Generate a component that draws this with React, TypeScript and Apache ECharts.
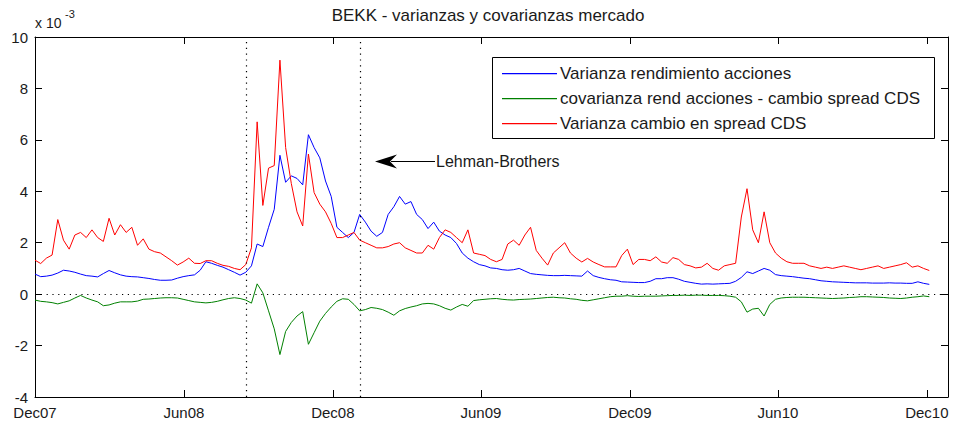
import React, { useEffect, useRef } from "react";
import * as echarts from "echarts";

// Weekly observations starting 1 Dec 2007 (values in units of 10^-3)
const startDate = "2007-12-01";
const endDate = "2010-12-27";
const stepDays = 7;

const seriesNames = [
  "Varianza rendimiento acciones",
  "covarianza rend acciones - cambio spread CDS",
  "Varianza cambio en spread CDS",
];
const seriesColors = ["#0000ff", "#008000", "#ff0000"];

const varRend = [
  0.78, 0.68, 0.70, 0.74, 0.82, 0.93, 0.90, 0.85, 0.78, 0.72,
  0.70, 0.67, 0.80, 0.92, 0.83, 0.75, 0.70, 0.68, 0.67, 0.64,
  0.61, 0.57, 0.54, 0.54, 0.55, 0.62, 0.68, 0.72, 0.75, 0.93,
  1.26, 1.20, 1.12, 1.05, 0.95, 0.85, 0.74, 0.85, 1.10, 1.95,
  1.85, 2.60, 3.30, 5.40, 4.35, 4.60, 4.50, 4.25, 6.20, 5.70,
  5.30, 4.40, 3.80, 2.60, 2.40, 2.20, 2.40, 3.10, 2.80, 2.45,
  2.25, 2.40, 3.10, 3.40, 3.80, 3.50, 3.60, 3.10, 2.90, 2.55,
  2.80, 2.45, 2.30, 2.20, 1.97, 1.60, 1.40, 1.26, 1.15, 1.10,
  1.02, 1.00, 0.95, 0.93, 0.95, 1.00, 0.90, 0.80, 0.77, 0.75,
  0.73, 0.72, 0.72, 0.73, 0.72, 0.71, 0.70, 0.90, 0.72, 0.65,
  0.60, 0.56, 0.54, 0.48, 0.47, 0.46, 0.45, 0.45, 0.50, 0.60,
  0.60, 0.64, 0.64, 0.58, 0.50, 0.46, 0.42, 0.39, 0.40, 0.39,
  0.40, 0.41, 0.42, 0.50, 0.65, 0.87, 0.80, 0.90, 1.00, 0.93,
  0.76, 0.72, 0.70, 0.68, 0.65, 0.62, 0.60, 0.56, 0.52, 0.50,
  0.48, 0.47, 0.46, 0.45, 0.44, 0.44, 0.44, 0.43, 0.43, 0.43,
  0.44, 0.43, 0.43, 0.42, 0.42, 0.48, 0.42, 0.38,
];

const covar = [
  -0.23, -0.28, -0.30, -0.33, -0.38, -0.32, -0.26, -0.15, -0.05, -0.15,
  -0.23, -0.30, -0.45, -0.42, -0.35, -0.30, -0.30, -0.30, -0.27, -0.20,
  -0.19, -0.17, -0.15, -0.14, -0.14, -0.15, -0.20, -0.25, -0.30, -0.32,
  -0.34, -0.32, -0.28, -0.22, -0.17, -0.14, -0.17, -0.23, -0.35, 0.40,
  0.05, -0.65, -1.35, -2.35, -1.45, -1.10, -0.85, -0.68, -1.95, -1.50,
  -1.05, -0.75, -0.50, -0.28, -0.18, -0.20, -0.40, -0.65, -0.60, -0.52,
  -0.55, -0.60, -0.70, -0.82, -0.65, -0.56, -0.50, -0.45, -0.38, -0.36,
  -0.38, -0.45, -0.55, -0.62, -0.50, -0.40, -0.47, -0.25, -0.22, -0.20,
  -0.18, -0.17, -0.20, -0.22, -0.23, -0.21, -0.20, -0.19, -0.17, -0.15,
  -0.13, -0.12, -0.14, -0.15, -0.18, -0.20, -0.24, -0.26, -0.22, -0.18,
  -0.14, -0.10, -0.08, -0.08, -0.06, -0.08, -0.09, -0.08, -0.08, -0.08,
  -0.07, -0.06, -0.05, -0.05, -0.04, -0.05, -0.04, -0.04, -0.05, -0.05,
  -0.05, -0.06, -0.08, -0.12, -0.30, -0.70, -0.58, -0.55, -0.85, -0.40,
  -0.20, -0.15, -0.13, -0.12, -0.12, -0.12, -0.13, -0.14, -0.15, -0.16,
  -0.17, -0.16, -0.15, -0.13, -0.12, -0.10, -0.10, -0.11, -0.12, -0.13,
  -0.15, -0.16, -0.17, -0.15, -0.12, -0.10, -0.07, -0.10,
];

const varCds = [
  1.32, 1.19, 1.40, 1.52, 2.90, 2.10, 1.75, 2.30, 2.40, 2.20,
  2.50, 2.20, 2.05, 2.95, 2.30, 2.70, 2.40, 2.60, 1.90, 2.15,
  1.75, 1.65, 1.60, 1.45, 1.30, 1.13, 1.25, 1.40, 1.20, 1.19,
  1.30, 1.30, 1.20, 1.12, 1.08, 1.00, 0.95, 1.15, 1.80, 6.70,
  3.45, 4.90, 5.00, 9.10, 5.70, 4.30, 3.20, 2.65, 5.45, 3.95,
  3.50, 3.20, 2.75, 2.20, 2.20, 2.30, 2.40, 2.10, 2.00, 1.90,
  1.80, 1.80, 1.85, 1.95, 2.00, 1.80, 1.70, 1.60, 1.60, 1.90,
  1.75, 2.20, 2.50, 2.40, 2.20, 2.00, 2.50, 1.60, 1.55, 1.50,
  1.35, 1.26, 1.35, 1.95, 2.10, 1.90, 2.30, 2.60, 1.70, 1.40,
  1.13, 1.60, 1.80, 2.00, 1.60, 1.40, 1.25, 1.39, 1.25, 1.15,
  1.06, 1.06, 1.06, 1.50, 1.75, 1.15, 1.35, 1.35, 1.30, 1.45,
  1.25, 1.20, 1.42, 1.35, 1.15, 1.10, 1.02, 1.05, 1.20, 1.00,
  0.93, 1.10, 1.15, 1.20, 3.00, 4.10, 2.50, 2.00, 3.20, 2.00,
  1.60, 1.40, 1.26, 1.20, 1.20, 1.20, 1.10, 1.05, 1.00, 1.05,
  1.00, 1.05, 1.10, 1.05, 1.00, 0.95, 1.00, 1.05, 1.10, 1.00,
  1.05, 1.10, 1.15, 1.22, 1.05, 1.10, 1.00, 0.92,
];

const tickDates = ["2007-12-01", "2008-06-01", "2008-12-01", "2009-06-01", "2009-12-01", "2010-06-01", "2010-12-01"];
const tickLabels = ["Dec07", "Jun08", "Dec08", "Jun09", "Dec09", "Jun10", "Dec10"];
const eventDates = ["2008-08-16", "2009-01-04"];
const yTicks = { min: -4, max: 10, interval: 2 };

const FONT = '"Liberation Sans", Arial, Helvetica, sans-serif';
const TXT = "#1a1a1a";

export default function App() {
  const ref = useRef<HTMLDivElement>(null);

  useEffect(() => {
    if (!ref.current) return;
    const chart = echarts.init(ref.current, undefined, { renderer: "svg" });
    const DAY = 86400000;
    const t0 = new Date(startDate).getTime();
    const tEnd = new Date(endDate).getTime();
    const toPairs = (arr: number[]) => arr.map((v, i) => [t0 + i * stepDays * DAY, v]);
    const tickVals = tickDates.map((d) => new Date(d).getTime());
    const fmt = (v: number) => {
      const k = tickVals.indexOf(v);
      return k >= 0 ? tickLabels[k] : "";
    };
    const dotted = { color: "#000", width: 1.2, type: [1.2, 4.6] as any };

    const xBase = {
      type: "value" as const,
      min: t0,
      max: tEnd,
      splitLine: { show: false },
      axisLine: { show: true, onZero: false, lineStyle: { color: "#000", width: 1 } },
      axisTick: { show: true, inside: true, length: 7, customValues: tickVals, lineStyle: { color: "#000" } },
    };
    const yBase = {
      type: "value" as const,
      min: yTicks.min,
      max: yTicks.max,
      interval: yTicks.interval,
      splitLine: { show: false },
      axisLine: { show: true, onZero: false, lineStyle: { color: "#000", width: 1 } },
      axisTick: { show: true, inside: true, length: 7, lineStyle: { color: "#000" } },
    };

    const dataSets = [varRend, covar, varCds];

    // legend box drawn as graphics (MATLAB-style)
    const lgX = 492, lgY = 57, lgW = 442, lgH = 81;
    const rowY = [73, 98, 123];
    const legendGraphics: any[] = [
      {
        type: "rect",
        z: 100,
        shape: { x: lgX + 0.5, y: lgY + 0.5, width: lgW, height: lgH },
        style: { fill: "#fff", stroke: "#000", lineWidth: 1 },
      },
    ];
    seriesNames.forEach((name, i) => {
      legendGraphics.push({
        type: "rect",
        z: 101,
        shape: { x: 502, y: rowY[i], width: 55, height: 1.2 },
        style: { fill: seriesColors[i] },
      });
      legendGraphics.push({
        type: "text",
        z: 101,
        x: 560,
        y: rowY[i] + 0.5,
        style: { text: name, fontSize: 17, fill: TXT, fontFamily: FONT, verticalAlign: "middle", align: "left" },
      });
    });

    chart.setOption({
      animation: false,
      backgroundColor: "#fff",
      title: {
        text: "BEKK - varianzas y covarianzas mercado",
        left: 488,
        top: 7,
        textAlign: "center",
        padding: 0,
        textStyle: { fontSize: 17, fontWeight: "normal", color: TXT, fontFamily: FONT },
      },
      grid: { left: 35, right: 7, top: 37, bottom: 26, containLabel: false, outerBoundsMode: "none" },
      xAxis: [
        {
          ...xBase,
          position: "bottom",
          axisLabel: {
            customValues: tickVals,
            formatter: fmt,
            color: TXT,
            fontSize: 15,
            lineHeight: 15,
            fontFamily: FONT,
            margin: 8,
          },
        },
        { ...xBase, position: "top", axisLabel: { show: false } },
      ],
      yAxis: [
        {
          ...yBase,
          position: "left",
          axisLabel: { color: TXT, fontSize: 15, lineHeight: 11, fontFamily: FONT, margin: 7 },
        },
        { ...yBase, position: "right", axisLabel: { show: false } },
      ],
      series: seriesNames.map((name, i) => ({
        name,
        type: "line",
        symbol: "none",
        data: toPairs(dataSets[i]),
        lineStyle: { color: seriesColors[i], width: 1 },
        itemStyle: { color: seriesColors[i] },
        markLine:
          i === 0
            ? {
                silent: true,
                symbol: ["none", "none"],
                label: { show: false },
                lineStyle: dotted,
                data: [{ yAxis: 0 }, ...eventDates.map((d) => ({ xAxis: new Date(d).getTime() }))],
              }
            : undefined,
      })),
      graphic: [
        { type: "text", left: 35, top: 16, style: { text: "x 10", fontSize: 14, fill: TXT, fontFamily: FONT } },
        { type: "text", left: 65, top: 8, style: { text: "-3", fontSize: 11, fill: TXT, fontFamily: FONT } },
        { type: "line", shape: { x1: 391, y1: 161.5, x2: 435, y2: 161.5 }, style: { stroke: "#000", lineWidth: 1 } },
        {
          type: "polygon",
          shape: { points: [[375, 161.5], [397, 154.5], [390, 161.5], [397, 168.5]] },
          style: { fill: "#000" },
        },
        {
          type: "text",
          x: 436,
          y: 161.5,
          style: { text: "Lehman-Brothers", fontSize: 16, fill: TXT, fontFamily: FONT, verticalAlign: "middle", align: "left" },
        },
        ...legendGraphics,
      ],
    });
    return () => chart.dispose();
  }, []);

  return (
    <div
      ref={ref}
      style={{ position: "absolute", left: 0, top: 0, width: 955, height: 423, background: "#fff" }}
    />
  );
}
